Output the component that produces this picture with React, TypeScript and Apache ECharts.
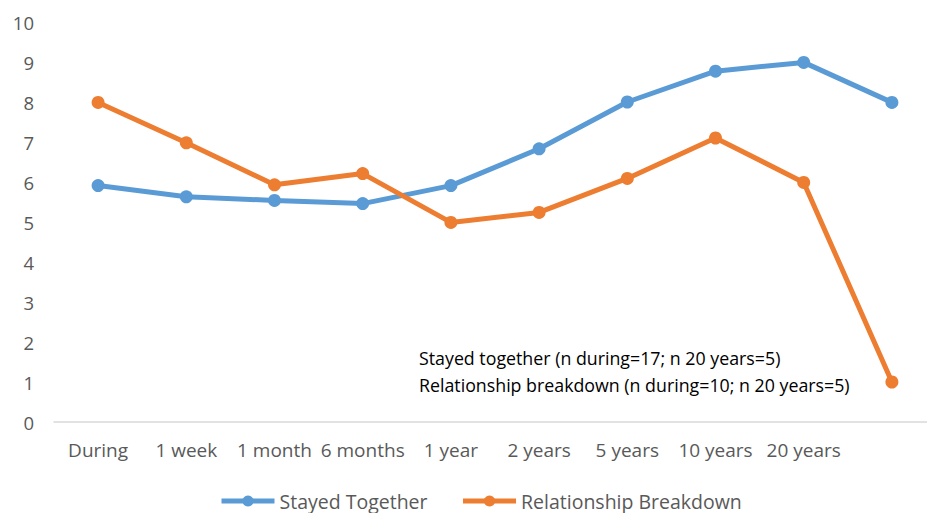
import React, { useEffect, useRef } from "react";
import * as echarts from "echarts";

const categories = ["During", "1 week", "1 month", "6 months", "1 year", "2 years", "5 years", "10 years", "20 years", ""];
const stayedTogether = [5.91, 5.63, 5.54, 5.46, 5.91, 6.83, 8.0, 8.77, 8.99, 7.99];
const relationshipBreakdown = [7.99, 6.98, 5.93, 6.21, 4.99, 5.24, 6.09, 7.1, 5.99, 1.0];
const yTicks = { min: 0, max: 10, interval: 1 };
const noteLines = [
  "Stayed together (n during=17; n 20 years=5)",
  "Relationship breakdown (n during=10; n 20 years=5)",
];

const FONT = "'Open Sans', 'Noto Sans', sans-serif";

export default function App() {
  const ref = useRef<HTMLDivElement>(null);
  useEffect(() => {
    if (!ref.current) return;
    const chart = echarts.init(ref.current, null, { renderer: "svg" });
    chart.setOption({
      animation: false,
      backgroundColor: "#ffffff",
      textStyle: { fontFamily: FONT },
      grid: {
        left: 54,
        width: 882,
        top: 22,
        height: 400,
        containLabel: false,
        outerBoundsMode: "none",
      },
      xAxis: {
        type: "category",
        data: categories,
        boundaryGap: true,
        axisLine: { show: true, lineStyle: { color: "#D9D9D9", width: 1.5 } },
        axisTick: { show: false },
        axisLabel: { color: "#595959", fontSize: 19, margin: 18, interval: 0, fontFamily: FONT },
        splitLine: { show: false },
      },
      yAxis: {
        type: "value",
        min: yTicks.min,
        max: yTicks.max,
        interval: yTicks.interval,
        axisLine: { show: false },
        axisTick: { show: false },
        splitLine: { show: false },
        axisLabel: { color: "#595959", fontSize: 18.5, margin: 20, fontFamily: FONT },
      },
      legend: {
        left: 214,
        top: 486,
        itemWidth: 53,
        itemHeight: 14,
        itemGap: 33,
        lineStyle: { width: 5 },
        textStyle: { color: "#595959", fontSize: 19.5, fontFamily: FONT },
        data: ["Stayed Together", "Relationship Breakdown"],
      },
      series: [
        {
          name: "Stayed Together",
          type: "line",
          data: stayedTogether,
          color: "#5B9BD5",
          symbol: "circle",
          symbolSize: 13,
          lineStyle: { width: 5, color: "#5B9BD5" },
          itemStyle: { color: "#5B9BD5" },
        },
        {
          name: "Relationship Breakdown",
          type: "line",
          data: relationshipBreakdown,
          color: "#ED7D31",
          symbol: "circle",
          symbolSize: 13,
          lineStyle: { width: 5, color: "#ED7D31" },
          itemStyle: { color: "#ED7D31" },
        },
      ],
      graphic: noteLines.map((t, i) => ({
        type: "text",
        left: 419,
        top: 349 + i * 27,
        style: { text: t, fill: "#000000", fontSize: 17.8, fontFamily: FONT },
      })),
    });
    return () => chart.dispose();
  }, []);
  return (
    <div
      ref={ref}
      style={{ position: "fixed", left: 0, top: 0, width: 927, height: 513 }}
    />
  );
}
